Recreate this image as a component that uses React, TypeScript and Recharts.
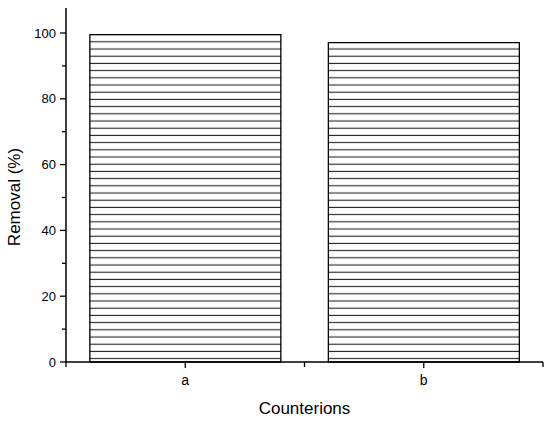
import { BarChart, Bar, XAxis, YAxis, Label } from "recharts";

const categories = ["a", "b"];
const removal = [99.5, 97.1];
const yTicks = [0, 10, 20, 30, 40, 50, 60, 70, 80, 90, 100];

const chartData = categories.map((name, i) => ({ name, removal: removal[i] }));

const W = 550;
const H = 421;
const LEFT = 66;
const RIGHT = 7;
const FONT = "'Liberation Sans', Arial, Helvetica, sans-serif";
const halfBand = (W - LEFT - RIGHT) / categories.length / 2;

const YTick = (props: any) => {
  const { x, y, payload } = props;
  const major = payload.value % 20 === 0;
  return (
    <g>
      <line
        x1={x + (major ? 4 : 6)}
        x2={x + 10}
        y1={y}
        y2={y}
        stroke="#000"
        strokeWidth={1.3}
      />
      {major && (
        <text x={x} y={y} dy={4.5} textAnchor="end" fontSize={13} fontFamily={FONT} fill="#000">
          {payload.value}
        </text>
      )}
    </g>
  );
};

const XTick = (props: any) => {
  const { x, y, payload, index } = props;
  return (
    <g>
      <line x1={x} x2={x} y1={y - 10} y2={y - 4} stroke="#000" strokeWidth={1.3} />
      <line x1={x + halfBand} x2={x + halfBand} y1={y - 10} y2={y - 5} stroke="#000" strokeWidth={1.3} />
      {index === 0 && (
        <line x1={x - halfBand} x2={x - halfBand} y1={y - 10} y2={y - 5} stroke="#000" strokeWidth={1.3} />
      )}
      <text x={x} y={y} dy="0.9em" textAnchor="middle" fontSize={14} fontFamily={FONT} fill="#000">
        {payload.value}
      </text>
    </g>
  );
};

const App = () => {
  return (
    <div style={{ width: W, height: H, background: "#fff" }}>
      <style>{`body{margin:0;background:#fff}`}</style>
      <BarChart
        width={W}
        height={H}
        data={chartData}
        margin={{ top: 8, right: RIGHT, left: 0, bottom: 0 }}
        barCategoryGap="10%"
      >
        <defs>
          <pattern id="hatch" patternUnits="userSpaceOnUse" width={8} height={7.2} y={0}>
            <line x1={0} x2={8} y1={5.8} y2={5.8} stroke="#222" strokeWidth={1.1} />
          </pattern>
        </defs>
        <XAxis
          dataKey="name"
          height={59}
          tickLine={false}
          tickSize={6}
          tickMargin={4}
          tick={<XTick />}
          axisLine={{ stroke: "#000", strokeWidth: 1.5 }}
        >
          <Label
            value="Counterions"
            position="insideBottom"
            offset={7}
            style={{ fontSize: 17, fontFamily: FONT, fill: "#000" }}
          />
        </XAxis>
        <YAxis
          width={LEFT}
          domain={[0, 107.6]}
          ticks={yTicks}
          interval={0}
          tickLine={false}
          tickSize={6}
          tickMargin={4}
          tick={<YTick />}
          axisLine={{ stroke: "#000", strokeWidth: 1.5 }}
        >
          <Label
            content={(p: any) => {
              const vb = p.viewBox;
              const cx = vb.x + 14;
              const cy = vb.y + vb.height / 2 + 12;
              return (
                <text
                  x={cx}
                  y={cy}
                  transform={`rotate(-90 ${cx} ${cy})`}
                  textAnchor="middle"
                  dominantBaseline="central"
                  fontSize={17}
                  fontFamily={FONT}
                  fill="#000"
                >
                  Removal (%)
                </text>
              );
            }}
          />
        </YAxis>
        <Bar
          dataKey="removal"
          fill="url(#hatch)"
          stroke="#000"
          strokeWidth={1.3}
          isAnimationActive={false}
        />
      </BarChart>
    </div>
  );
};

export default App;
